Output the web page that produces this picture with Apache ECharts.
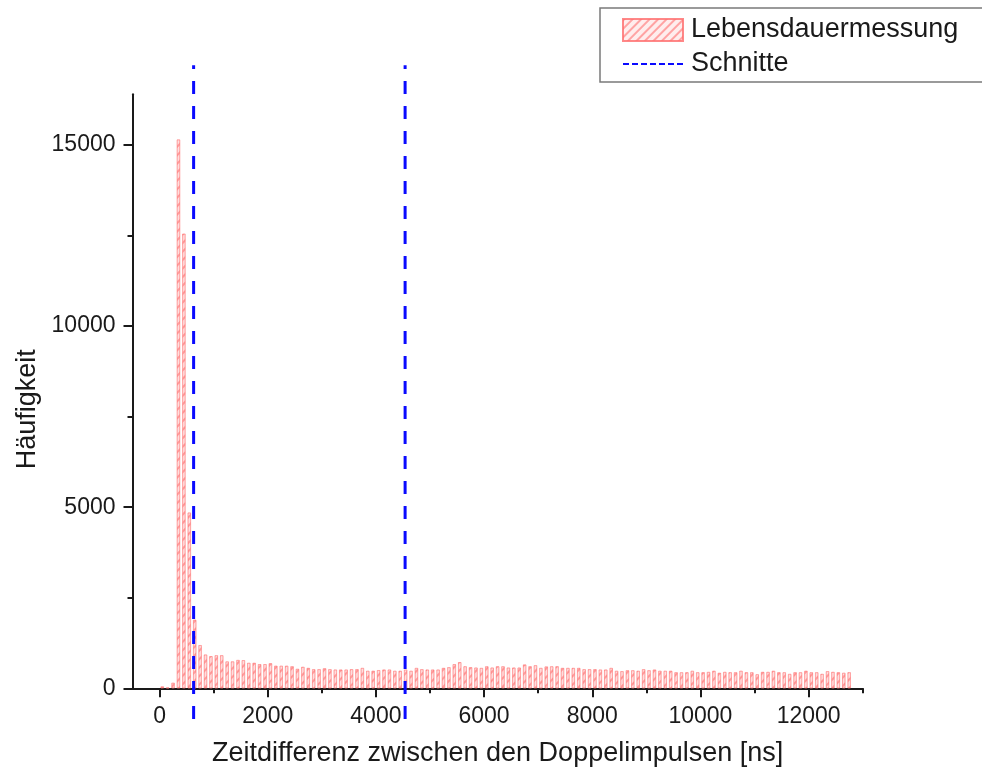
<!DOCTYPE html>
<html>
<head>
<meta charset="utf-8">
<script src="https://cdn.jsdelivr.net/npm/echarts@6/dist/echarts.min.js"></script>
<style>
html,body{margin:0;padding:0;background:#fff;}
#chart{width:982px;height:776px;}
</style>
</head>
<body>
<div id="chart"></div>
<script>
// Bin centres (ns), 100 ns bins
const binCenters = [50,150,250,350,450,550,650,750,850,950,
1050,1150,1250,1350,1450,1550,1650,1750,1850,1950,
2050,2150,2250,2350,2450,2550,2650,2750,2850,2950,
3050,3150,3250,3350,3450,3550,3650,3750,3850,3950,
4050,4150,4250,4350,4450,4550,4650,4750,4850,4950,
5050,5150,5250,5350,5450,5550,5650,5750,5850,5950,
6050,6150,6250,6350,6450,6550,6650,6750,6850,6950,
7050,7150,7250,7350,7450,7550,7650,7750,7850,7950,
8050,8150,8250,8350,8450,8550,8650,8750,8850,8950,
9050,9150,9250,9350,9450,9550,9650,9750,9850,9950,
10050,10150,10250,10350,10450,10550,10650,10750,10850,10950,
11050,11150,11250,11350,11450,11550,11650,11750,11850,11950,
12050,12150,12250,12350,12450,12550,12650,12750];

// Counts per bin (Häufigkeit)
const counts = [50,20,150,15150,12550,4850,1890,1190,930,885,
910,910,740,740,780,775,700,700,665,665,
690,620,620,620,605,535,590,560,525,525,
550,525,515,515,515,525,525,560,480,480,
500,515,515,480,480,515,480,560,525,515,
515,515,560,580,665,720,605,580,570,560,
605,570,605,605,570,570,570,655,605,635,
560,600,605,605,560,560,560,560,525,525,
525,515,515,560,480,470,495,495,480,525,
495,515,480,480,480,440,440,440,480,440,
440,450,480,425,450,440,440,480,440,440,
385,450,450,480,440,440,395,440,440,480,
440,440,395,470,450,440,425,440];

// Cut positions (ns) and vertical extent of the cut lines (in count units)
const cuts = [630, 4540];
const cutExtent = [-850, 17200];

// Axis ticks
const xMajorTicks = [0,2000,4000,6000,8000,10000,12000];
const xMinorTicks = [1000,3000,5000,7000,9000,11000,13000];
const yMajorTicks = [0,5000,10000,15000];
const yMinorTicks = [2500,7500,12500];

const seriesNames = ['Lebensdauermessung', 'Schnitte'];

const FONT = 'Liberation Sans, Arial, sans-serif';
const AXC = '#1a1a1a';
const TXT = '#1a1a1a';
const BLUE = '#0a0aff';

// legend icon for the dashed line: 7 short dashes
const dashIcon = 'path://M0,0L0,0M60,22L60,22' +
  'M0,10h6v2h-6zM9,10h6v2h-6zM18,10h6v2h-6zM27,10h6v2h-6zM36,10h6v2h-6zM45,10h6v2h-6zM54,10h6v2h-6z';

const chart = echarts.init(document.getElementById('chart'), null, {renderer:'canvas'});

const barData = binCenters.map((x, i) => [x, counts[i]]);

const cutSeries = cuts.map(c => ({
  name: seriesNames[1],
  type: 'line',
  xAxisIndex: 0, yAxisIndex: 0,
  clip: false,
  symbol: 'none',
  silent: true,
  z: 5,
  lineStyle: {color: BLUE, width: 3, type: [13, 12]},
  itemStyle: {color: BLUE},
  data: [[c, cutExtent[0]], [c, cutExtent[1]]]
}));

const plainNum = v => String(v);

const option = {
  animation: false,
  backgroundColor: '#ffffff',
  textStyle: {fontFamily: FONT},
  grid: {left: 132.5, right: 119.3, top: 94.3, bottom: 87.7, containLabel: false, outerBoundsMode: 'none'},
  legend: {
    orient: 'vertical',
    left: 600, top: 8,
    padding: [6, 40, 2, 22],
    itemGap: 2,
    itemWidth: 60, itemHeight: 22,
    borderColor: '#7a7a7a', borderWidth: 1.5,
    backgroundColor: '#fff',
    data: [
      {name: seriesNames[0], icon: 'rect', itemStyle: {color: 'rgba(255,225,225,0.6)'}},
      {name: seriesNames[1], icon: dashIcon, itemStyle: {color: BLUE, borderWidth: 0}}
    ],
    textStyle: {fontFamily: FONT, fontSize: 27, color: TXT, lineHeight: 32, padding: [0, 0, 0, 3]}
  },
  xAxis: [{
    type: 'value', min: -500, max: 13000,
    name: 'Zeitdifferenz zwischen den Doppelimpulsen [ns]',
    nameLocation: 'middle', nameGap: 52,
    nameTextStyle: {fontFamily: FONT, fontSize: 27, color: TXT},
    axisLine: {show: true, onZero: false, lineStyle: {color: AXC, width: 2}},
    axisTick: {show: true, inside: false, length: 9, lineStyle: {color: AXC, width: 2}, customValues: xMajorTicks},
    axisLabel: {show: true, margin: 17, fontFamily: FONT, fontSize: 23, color: TXT, customValues: xMajorTicks, formatter: plainNum},
    splitLine: {show: false}
  }, {
    type: 'value', min: -500, max: 13000, position: 'bottom',
    axisLine: {show: false, onZero: false},
    axisTick: {show: true, inside: false, length: 5, lineStyle: {color: AXC, width: 2}, customValues: xMinorTicks},
    axisLabel: {show: false},
    splitLine: {show: false}
  }],
  yAxis: [{
    type: 'value', min: 0, max: 16400,
    name: 'Häufigkeit',
    nameLocation: 'middle', nameGap: 80, nameRotate: 90,
    nameTextStyle: {fontFamily: FONT, fontSize: 27, color: TXT, padding: [0, 36, 0, 0]},
    axisLine: {show: true, onZero: false, lineStyle: {color: AXC, width: 2}},
    axisTick: {show: true, inside: false, length: 9, lineStyle: {color: AXC, width: 2}, customValues: yMajorTicks},
    axisLabel: {show: true, margin: 17, fontFamily: FONT, fontSize: 23, color: TXT, customValues: yMajorTicks, formatter: plainNum},
    splitLine: {show: false}
  }, {
    type: 'value', min: 0, max: 16400, position: 'left',
    axisLine: {show: false, onZero: false},
    axisTick: {show: true, inside: false, length: 5, lineStyle: {color: AXC, width: 2}, customValues: yMinorTicks},
    axisLabel: {show: false},
    splitLine: {show: false}
  }],
  series: [{
    name: seriesNames[0],
    type: 'bar',
    xAxisIndex: 0, yAxisIndex: 0,
    barWidth: 3.2,
    z: 2,
    itemStyle: {
      color: 'rgba(255,205,205,0.65)',
      borderColor: 'rgba(255,120,120,0.65)',
      borderWidth: 0.6,
      decal: {
        symbol: 'rect', symbolSize: 1,
        dashArrayX: [1, 0], dashArrayY: [2, 4],
        rotation: -Math.PI / 4,
        color: 'rgba(255,90,90,0.5)'
      }
    },
    data: barData
  }].concat(cutSeries)
};

chart.setOption(option);
</script>
</body>
</html>
